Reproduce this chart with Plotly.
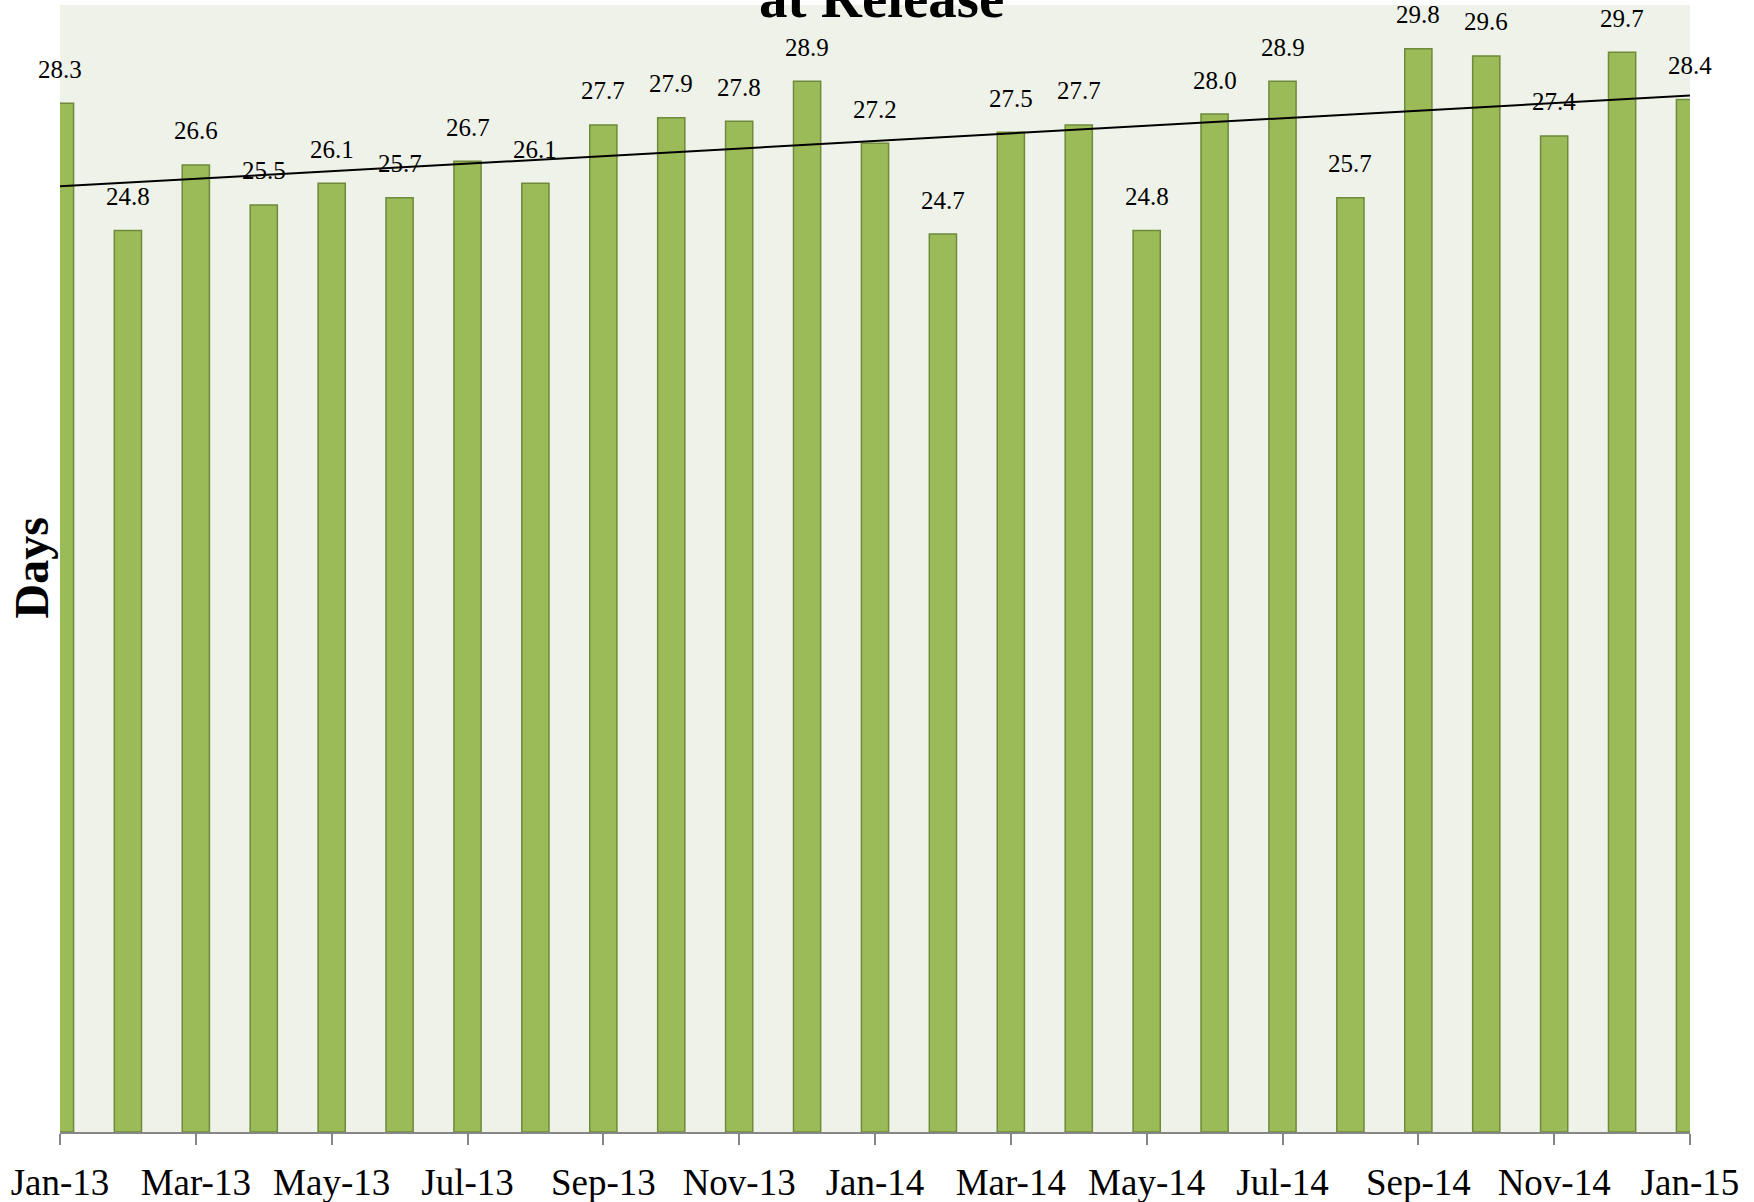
import numpy as np
import plotly.graph_objects as go

months = ["Jan-13", "Feb-13", "Mar-13", "Apr-13", "May-13", "Jun-13", "Jul-13", "Aug-13",
          "Sep-13", "Oct-13", "Nov-13", "Dec-13", "Jan-14", "Feb-14", "Mar-14", "Apr-14",
          "May-14", "Jun-14", "Jul-14", "Aug-14", "Sep-14", "Oct-14", "Nov-14", "Dec-14",
          "Jan-15"]
days = [28.3, 24.8, 26.6, 25.5, 26.1, 25.7, 26.7, 26.1, 27.7, 27.9, 27.8, 28.9, 27.2,
        24.7, 27.5, 27.7, 24.8, 28.0, 28.9, 25.7, 29.8, 29.6, 27.4, 29.7, 28.4]
tick_labels = months[::2]
title_text = "at Release"
y_title = "Days"

FONT = "Liberation Serif"

# linear trendline (least squares) over the series
idx = np.arange(len(days))
slope, intercept = np.polyfit(idx, days, 1)
trend = slope * idx + intercept

fig = go.Figure()
fig.add_trace(go.Bar(
    x=months, y=days, width=0.4,
    marker=dict(color="#9BBB59", line=dict(color="#6E8A3A", width=1.5)),
    showlegend=False,
))
fig.add_trace(go.Scatter(
    x=months, y=trend, mode="lines",
    line=dict(color="#000000", width=2),
    showlegend=False,
))

annotations = []
for m, v in zip(months, days):
    annotations.append(dict(
        x=m, y=v, xref="x", yref="y", text=f"{v:.1f}", showarrow=False,
        yanchor="middle", yshift=34,
        font=dict(family=FONT, size=25, color="#000000"),
    ))
annotations.append(dict(
    x=0.5, y=1, xref="paper", yref="paper", text=f"<b>{title_text}</b>",
    showarrow=False, xanchor="center", yanchor="bottom", xshift=6, yshift=-26,
    font=dict(family=FONT, size=57, color="#000000"),
))
annotations.append(dict(
    x=0, y=0.5, xref="paper", yref="paper", text=f"<b>{y_title}</b>",
    showarrow=False, xanchor="center", yanchor="middle", xshift=-29,
    textangle=-90,
    font=dict(family=FONT, size=48, color="#000000"),
))

fig.update_layout(
    width=1754, height=1202,
    margin=dict(l=60, r=64, t=5, b=70, autoexpand=False),
    paper_bgcolor="#FFFFFF",
    plot_bgcolor="#EEF2E8",
    bargap=0.6,
    annotations=annotations,
    font=dict(family=FONT, color="#000000"),
)
fig.update_xaxes(
    type="category", range=[0, len(months) - 1],
    tickmode="array", tickvals=tick_labels, ticktext=tick_labels,
    ticks="outside", ticklen=11, tickwidth=2, tickcolor="#868686",
    showline=True, linecolor="#868686", linewidth=2,
    showgrid=False, zeroline=False, automargin=False,
    tickfont=dict(family=FONT, size=37, color="#000000"),
    ticklabelstandoff=6,
)
fig.update_yaxes(
    range=[0, 31], showticklabels=False, showgrid=False, zeroline=False,
    showline=False, ticks="", automargin=False,
)

fig.write_html(
    "out.html",
    config={"displayModeBar": False},
    post_script="document.body.style.margin='0';document.body.style.overflow='hidden';",
)
